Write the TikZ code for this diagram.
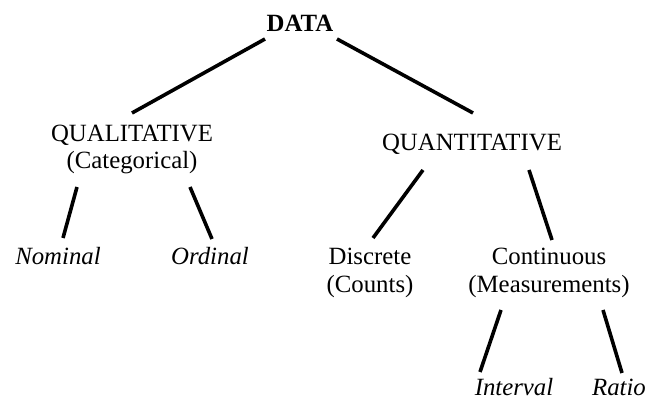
\documentclass[tikz,border=0pt]{standalone}
\usepackage{fontspec}
\setmainfont{Liberation Serif}
\usetikzlibrary{calc}
\begin{document}
\begin{tikzpicture}[x=0.5pt,y=-0.5pt,
    lbl/.style={inner sep=0pt, anchor=base, font=\fontsize{12.4}{15}\selectfont},
    branch/.style={line width=1.8pt}]
  \useasboundingbox (0,0) rectangle (663,399);
  % labels
  \node[lbl] (data) at (300,32) {\textbf{DATA}};
  \node[lbl] (qual) at (132,142) {QUALITATIVE};
  \node[lbl] (cat) at (132,169) {(Categorical)};
  \node[lbl] (quant) at (472,151) {QUANTITATIVE};
  \node[lbl] (nom) at (58,265) {\textit{Nominal}};
  \node[lbl] (ord) at (210,265) {\textit{Ordinal}};
  \node[lbl] (disc) at (370,265) {Discrete};
  \node[lbl] (counts) at (370,293) {(Counts)};
  \node[lbl] (cont) at (549,265) {Continuous};
  \node[lbl] (meas) at (549,293) {(Measurements)};
  \node[lbl] (intv) at (514,396) {\textit{Interval}};
  \node[lbl] (ratio) at (619,396) {\textit{Ratio}};
  % branches
  \draw[branch] ($(data.base)+(-35,7)$) -- ($(qual.base)+(0,-29)$);
  \draw[branch] ($(data.base)+(37,7)$) -- ($(quant.base)+(1,-38)$);
  \draw[branch] ($(cat.base)+(-55,18)$) -- ($(nom.base)+(5,-27)$);
  \draw[branch] ($(cat.base)+(58,18)$) -- ($(ord.base)+(2,-26)$);
  \draw[branch] ($(quant.base)+(-49,19)$) -- ($(disc.base)+(3,-27)$);
  \draw[branch] ($(quant.base)+(57,19)$) -- ($(cont.base)+(3,-25)$);
  \draw[branch] ($(meas.base)+(-48,17)$) -- ($(intv.base)+(-34,-24)$);
  \draw[branch] ($(meas.base)+(54,17)$) -- ($(ratio.base)+(3,-23)$);
\end{tikzpicture}
\end{document}
